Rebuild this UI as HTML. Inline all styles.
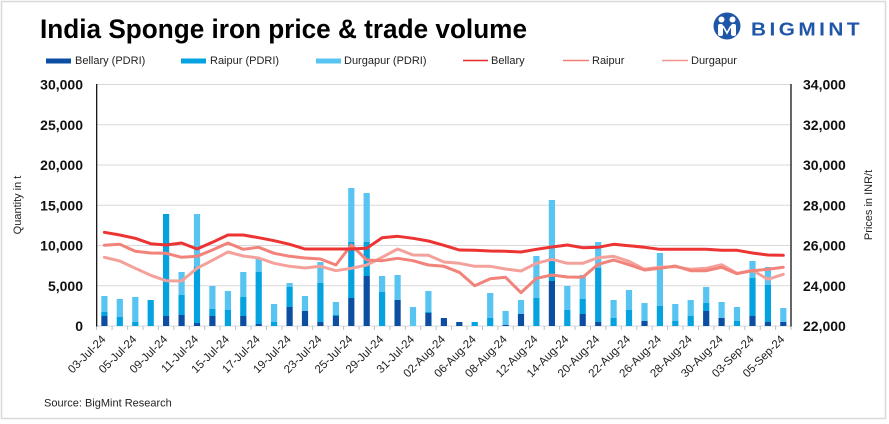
<!DOCTYPE html>
<html><head><meta charset="utf-8"><style>
html,body{margin:0;padding:0;background:#fff;}
svg{display:block;}
text{font-family:"Liberation Sans",Arial,sans-serif;}
</style></head><body>
<svg width="889" height="424" viewBox="0 0 889 424" xmlns="http://www.w3.org/2000/svg">
<rect x="0" y="0" width="889" height="424" fill="#fff"/>
<rect x="1.5" y="1.5" width="884" height="417" fill="none" stroke="#D9D9D9" stroke-width="1.5"/>

<!-- Title -->
<text x="40" y="38" font-size="27" font-weight="bold" fill="#000" textLength="487" lengthAdjust="spacingAndGlyphs">India Sponge iron price &amp; trade volume</text>

<!-- Logo -->
<circle cx="727" cy="26" r="13.5" fill="#1F56A8"/>
<circle cx="721.5" cy="19.5" r="3" fill="#fff"/>
<circle cx="732.5" cy="19.5" r="3" fill="#fff"/>
<rect x="718" y="24" width="5" height="12" rx="2" fill="#fff"/>
<rect x="731" y="24" width="5" height="12" rx="2" fill="#fff"/>
<path d="M723 26 L727 33 L731 26" stroke="#fff" stroke-width="1.6" fill="none"/>
<text x="751" y="35.5" font-size="18" font-weight="bold" fill="#1F56A8" textLength="112" lengthAdjust="spacingAndGlyphs" letter-spacing="3">BIGMINT</text>

<!-- Legend -->
<g font-size="11" fill="#222">
<rect x="46" y="58.5" width="25" height="5" fill="#0B4EA2"/><text x="75" y="64">Bellary (PDRI)</text>
<rect x="181" y="58.5" width="25" height="5" fill="#05A2E0"/><text x="210" y="64">Raipur (PDRI)</text>
<rect x="316" y="58.5" width="25" height="5" fill="#57C4F2"/><text x="344" y="64">Durgapur (PDRI)</text>
<line x1="463" y1="60.5" x2="488" y2="60.5" stroke="#E8282A" stroke-width="1.5"/><text x="491" y="64">Bellary</text>
<line x1="563" y1="60.5" x2="589" y2="60.5" stroke="#F47C76" stroke-width="1.5"/><text x="592" y="64">Raipur</text>
<line x1="662" y1="60.5" x2="688" y2="60.5" stroke="#F4948E" stroke-width="1.5"/><text x="691" y="64">Durgapur</text>
</g>

<!-- Gridlines -->
<g stroke="#D9D9D9" stroke-width="1">
<line x1="96.7" y1="84.5" x2="791" y2="84.5"/>
<line x1="96.7" y1="124.75" x2="791" y2="124.75"/>
<line x1="96.7" y1="165" x2="791" y2="165"/>
<line x1="96.7" y1="205.25" x2="791" y2="205.25"/>
<line x1="96.7" y1="245.5" x2="791" y2="245.5"/>
<line x1="96.7" y1="285.75" x2="791" y2="285.75"/>
<line x1="96.7" y1="326" x2="791" y2="326"/>
</g>
<path stroke="#BFBFBF" stroke-width="1" d="M96.7 326v4M112.1 326v4M127.6 326v4M143 326v4M158.4 326v4M173.9 326v4M189.3 326v4M204.7 326v4M220.1 326v4M235.6 326v4M251 326v4M266.4 326v4M281.9 326v4M297.3 326v4M312.7 326v4M328.2 326v4M343.6 326v4M359 326v4M374.4 326v4M389.9 326v4M405.3 326v4M420.7 326v4M436.2 326v4M451.6 326v4M467 326v4M482.5 326v4M497.9 326v4M513.3 326v4M528.7 326v4M544.2 326v4M559.6 326v4M575 326v4M590.5 326v4M605.9 326v4M621.3 326v4M636.8 326v4M652.2 326v4M667.6 326v4M683 326v4M698.5 326v4M713.9 326v4M729.3 326v4M744.8 326v4M760.2 326v4M775.6 326v4M791 326v4"/>

<!-- Bars -->
<g>
<g fill="#0B4EA2">
<rect x="101.3" y="316" width="6.2" height="10"/>
<rect x="163.0" y="316" width="6.2" height="10"/>
<rect x="178.5" y="315" width="6.2" height="11"/>
<rect x="193.9" y="323" width="6.2" height="3"/>
<rect x="209.3" y="316" width="6.2" height="10"/>
<rect x="240.2" y="316" width="6.2" height="10"/>
<rect x="255.6" y="324" width="6.2" height="2"/>
<rect x="286.5" y="307" width="6.2" height="19"/>
<rect x="301.9" y="311" width="6.2" height="15"/>
<rect x="317.3" y="322" width="6.2" height="4"/>
<rect x="332.8" y="316" width="6.2" height="10"/>
<rect x="348.2" y="298" width="6.2" height="28"/>
<rect x="363.6" y="276" width="6.2" height="50"/>
<rect x="394.5" y="300" width="6.2" height="26"/>
<rect x="425.3" y="313" width="6.2" height="13"/>
<rect x="440.8" y="318" width="6.2" height="8"/>
<rect x="456.2" y="322" width="6.2" height="4"/>
<rect x="502.5" y="325" width="6.2" height="1"/>
<rect x="517.9" y="314" width="6.2" height="12"/>
<rect x="548.8" y="281" width="6.2" height="45"/>
<rect x="579.6" y="314" width="6.2" height="12"/>
<rect x="595.1" y="322" width="6.2" height="4"/>
<rect x="641.4" y="321" width="6.2" height="5"/>
<rect x="703.1" y="311" width="6.2" height="15"/>
<rect x="718.5" y="318" width="6.2" height="8"/>
<rect x="749.4" y="316" width="6.2" height="10"/>
<rect x="764.8" y="322" width="6.2" height="4"/>
<rect x="780.2" y="322" width="6.2" height="4"/>
</g>
<g fill="#05A2E0">
<rect x="101.3" y="312" width="6.2" height="4"/>
<rect x="116.7" y="316.7" width="6.2" height="9.3"/>
<rect x="132.2" y="322" width="6.2" height="4"/>
<rect x="147.6" y="300" width="6.2" height="26"/>
<rect x="163.0" y="214" width="6.2" height="102"/>
<rect x="178.5" y="295" width="6.2" height="20"/>
<rect x="193.9" y="267" width="6.2" height="56"/>
<rect x="209.3" y="309" width="6.2" height="7"/>
<rect x="224.8" y="310" width="6.2" height="16"/>
<rect x="240.2" y="297" width="6.2" height="19"/>
<rect x="255.6" y="272" width="6.2" height="52"/>
<rect x="271.0" y="322" width="6.2" height="4"/>
<rect x="286.5" y="287" width="6.2" height="20"/>
<rect x="317.3" y="283" width="6.2" height="39"/>
<rect x="332.8" y="315" width="6.2" height="1"/>
<rect x="348.2" y="242" width="6.2" height="56"/>
<rect x="363.6" y="242" width="6.2" height="34"/>
<rect x="379.0" y="292" width="6.2" height="34"/>
<rect x="425.3" y="312" width="6.2" height="1"/>
<rect x="471.6" y="322" width="6.2" height="4"/>
<rect x="487.1" y="318" width="6.2" height="8"/>
<rect x="533.3" y="298" width="6.2" height="28"/>
<rect x="548.8" y="258" width="6.2" height="23"/>
<rect x="564.2" y="310" width="6.2" height="16"/>
<rect x="579.6" y="299" width="6.2" height="15"/>
<rect x="595.1" y="268" width="6.2" height="54"/>
<rect x="610.5" y="318" width="6.2" height="8"/>
<rect x="625.9" y="310" width="6.2" height="16"/>
<rect x="656.8" y="306" width="6.2" height="20"/>
<rect x="672.2" y="321" width="6.2" height="5"/>
<rect x="687.6" y="316" width="6.2" height="10"/>
<rect x="703.1" y="303" width="6.2" height="8"/>
<rect x="733.9" y="321" width="6.2" height="5"/>
<rect x="749.4" y="278" width="6.2" height="38"/>
<rect x="764.8" y="285" width="6.2" height="37"/>
</g>
<g fill="#57C4F2">
<rect x="101.3" y="296" width="6.2" height="16"/>
<rect x="116.7" y="299" width="6.2" height="17.7"/>
<rect x="132.2" y="297" width="6.2" height="25"/>
<rect x="178.5" y="272" width="6.2" height="23"/>
<rect x="193.9" y="214" width="6.2" height="53"/>
<rect x="209.3" y="286" width="6.2" height="23"/>
<rect x="224.8" y="291" width="6.2" height="19"/>
<rect x="240.2" y="272" width="6.2" height="25"/>
<rect x="255.6" y="259" width="6.2" height="13"/>
<rect x="271.0" y="304" width="6.2" height="18"/>
<rect x="286.5" y="283" width="6.2" height="4"/>
<rect x="301.9" y="296" width="6.2" height="15"/>
<rect x="317.3" y="262" width="6.2" height="21"/>
<rect x="332.8" y="302" width="6.2" height="13"/>
<rect x="348.2" y="188" width="6.2" height="54"/>
<rect x="363.6" y="193" width="6.2" height="49"/>
<rect x="379.0" y="276" width="6.2" height="16"/>
<rect x="394.5" y="275" width="6.2" height="25"/>
<rect x="409.9" y="307" width="6.2" height="19"/>
<rect x="425.3" y="291" width="6.2" height="21"/>
<rect x="487.1" y="293" width="6.2" height="25"/>
<rect x="502.5" y="311" width="6.2" height="14"/>
<rect x="517.9" y="300" width="6.2" height="14"/>
<rect x="533.3" y="256" width="6.2" height="42"/>
<rect x="548.8" y="200" width="6.2" height="58"/>
<rect x="564.2" y="286" width="6.2" height="24"/>
<rect x="579.6" y="275" width="6.2" height="24"/>
<rect x="595.1" y="242" width="6.2" height="26"/>
<rect x="610.5" y="300" width="6.2" height="18"/>
<rect x="625.9" y="290" width="6.2" height="20"/>
<rect x="641.4" y="303" width="6.2" height="18"/>
<rect x="656.8" y="253" width="6.2" height="53"/>
<rect x="672.2" y="304" width="6.2" height="17"/>
<rect x="687.6" y="300" width="6.2" height="16"/>
<rect x="703.1" y="287" width="6.2" height="16"/>
<rect x="718.5" y="302" width="6.2" height="16"/>
<rect x="733.9" y="307" width="6.2" height="14"/>
<rect x="749.4" y="261" width="6.2" height="17"/>
<rect x="764.8" y="267" width="6.2" height="18"/>
<rect x="780.2" y="308" width="6.2" height="14"/>
</g>
</g>

<!-- Lines -->
<g fill="none" stroke-width="3" stroke-linejoin="round" stroke-linecap="round">
<polyline stroke="#F5A19B" points="104.4,257.3 119.8,261 135.3,268.3 150.7,275.3 166.1,280.7 181.6,281 197,268.3 212.4,260.3 227.9,252 243.3,256 258.7,258 274.1,263.3 289.6,266.3 305,268 320.4,266.3 335.9,270.7 351.3,268.3 366.7,265 382.1,257.3 397.6,249 413,255 428.4,255.3 443.9,262 459.3,263.3 474.7,266.3 490.2,266.3 505.6,269 521,271 536.4,263.3 551.9,259.3 567.3,263.3 582.7,263.3 598.2,257.7 613.6,256.3 629,261.3 644.5,269.3 659.9,267.3 675.3,266.7 690.7,269.3 706.2,268.3 721.6,264.7 737,273.3 752.5,270.3 767.9,279.3 783.3,274.3"/>
<polyline stroke="#F2837B" points="104.4,245.3 119.8,244.3 135.3,251.3 150.7,253 166.1,253.3 181.6,257.3 197,256.3 212.4,250 227.9,243 243.3,249.3 258.7,247.3 274.1,253.3 289.6,256.3 305,258 320.4,259 335.9,265 351.3,245 366.7,260 382.1,260.7 397.6,258.3 413,260.7 428.4,265 443.9,266.3 459.3,272.3 474.7,285.7 490.2,278.7 505.6,277.3 521,292.7 536.4,278.3 551.9,275 567.3,277 582.7,277.3 598.2,264.3 613.6,260 629,264.7 644.5,270 659.9,268.3 675.3,266 690.7,270.7 706.2,270.7 721.6,267.3 737,273.7 752.5,270.7 767.9,269.3 783.3,267.3"/>
<polyline stroke="#EE3333" points="104.4,232.3 119.8,235 135.3,238.3 150.7,243.7 166.1,245 181.6,243 197,249 212.4,242.3 227.9,235 243.3,235 258.7,237.7 274.1,240.7 289.6,244.3 305,249 320.4,249 335.9,249 351.3,249 366.7,248.3 382.1,237.7 397.6,236.3 413,238.3 428.4,241 443.9,245.3 459.3,250 474.7,250.3 490.2,251 505.6,251.3 521,252 536.4,249.3 551.9,247 567.3,245 582.7,247.7 598.2,247.3 613.6,244.3 629,245.7 644.5,247.3 659.9,249.3 675.3,249.3 690.7,249.3 706.2,249.3 721.6,250.3 737,250.3 752.5,253 767.9,255 783.3,255.3"/>
</g>

<!-- Axes -->
<line x1="96.7" y1="84" x2="96.7" y2="326.5" stroke="#000" stroke-width="1.2"/>
<line x1="791" y1="84" x2="791" y2="326.5" stroke="#000" stroke-width="1.2"/>

<g font-size="14" font-weight="bold" fill="#111" text-anchor="end">
<text x="83" y="89.5">30,000</text>
<text x="83" y="129.75">25,000</text>
<text x="83" y="170">20,000</text>
<text x="83" y="210.25">15,000</text>
<text x="83" y="250.5">10,000</text>
<text x="83" y="290.75">5,000</text>
<text x="83" y="331">0</text>
</g>
<g font-size="14" font-weight="bold" fill="#111">
<text x="803" y="89.5">34,000</text>
<text x="803" y="129.75">32,000</text>
<text x="803" y="170">30,000</text>
<text x="803" y="210.25">28,000</text>
<text x="803" y="250.5">26,000</text>
<text x="803" y="290.75">24,000</text>
<text x="803" y="331">22,000</text>
</g>

<text transform="translate(21,205) rotate(-90)" font-size="11" fill="#222" text-anchor="middle">Quantity in t</text>
<text transform="translate(872,205) rotate(-90)" font-size="11" fill="#222" text-anchor="middle">Prices in INR/t</text>

<!-- X labels -->
<g font-size="11.5" fill="#222" text-anchor="end">
<text transform="translate(106.4,340) rotate(-45)">03-Jul-24</text>
<text transform="translate(137.3,340) rotate(-45)">05-Jul-24</text>
<text transform="translate(168.1,340) rotate(-45)">09-Jul-24</text>
<text transform="translate(199,340) rotate(-45)">11-Jul-24</text>
<text transform="translate(229.9,340) rotate(-45)">15-Jul-24</text>
<text transform="translate(260.7,340) rotate(-45)">17-Jul-24</text>
<text transform="translate(291.6,340) rotate(-45)">19-Jul-24</text>
<text transform="translate(322.4,340) rotate(-45)">23-Jul-24</text>
<text transform="translate(353.3,340) rotate(-45)">25-Jul-24</text>
<text transform="translate(384.1,340) rotate(-45)">29-Jul-24</text>
<text transform="translate(415,340) rotate(-45)">31-Jul-24</text>
<text transform="translate(445.9,340) rotate(-45)">02-Aug-24</text>
<text transform="translate(476.7,340) rotate(-45)">06-Aug-24</text>
<text transform="translate(507.6,340) rotate(-45)">08-Aug-24</text>
<text transform="translate(538.4,340) rotate(-45)">12-Aug-24</text>
<text transform="translate(569.3,340) rotate(-45)">14-Aug-24</text>
<text transform="translate(600.2,340) rotate(-45)">20-Aug-24</text>
<text transform="translate(631,340) rotate(-45)">22-Aug-24</text>
<text transform="translate(661.9,340) rotate(-45)">26-Aug-24</text>
<text transform="translate(692.7,340) rotate(-45)">28-Aug-24</text>
<text transform="translate(723.6,340) rotate(-45)">30-Aug-24</text>
<text transform="translate(754.5,340) rotate(-45)">03-Sep-24</text>
<text transform="translate(785.3,340) rotate(-45)">05-Sep-24</text>
</g>

<text x="44" y="406.5" font-size="11" fill="#222">Source: BigMint Research</text>
</svg>
</body></html>
